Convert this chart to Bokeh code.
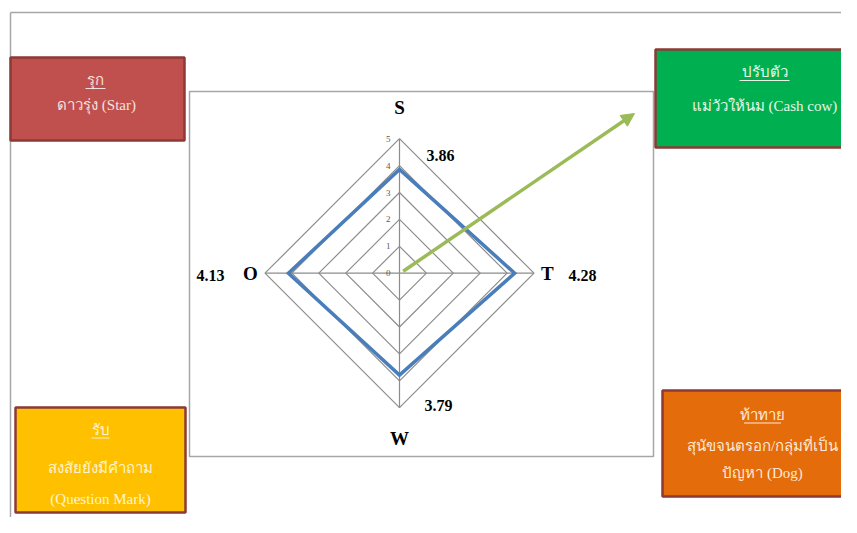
import math
from bokeh.plotting import figure
from bokeh.models import Range1d, Arrow, NormalHead
from bokeh.core.properties import value
from bokeh.embed import file_html
from bokeh.resources import INLINE

# ---------------- data ----------------
axis_names = ["S", "T", "W", "O"]
axis_angles_deg = [90, 0, 270, 180]
scores = [3.86, 4.28, 3.79, 4.13]
score_labels = ["3.86", "4.28", "3.79", "4.13"]
ring_levels = [1, 2, 3, 4, 5]
tick_values = [0, 1, 2, 3, 4, 5]
tick_labels = ["0", "1", "2", "3", "4", "5"]

box_titles = ["รุก", "ปรับตัว", "รับ", "ท้าทาย"]
box_lines = [
    ["ดาวรุ่ง (Star)"],
    ["แม่วัวให้นม (Cash cow)"],
    ["สงสัยยังมีคำถาม", "(Question Mark)"],
    ["สุนัขจนตรอก/กลุ่มที่เป็น", "ปัญหา (Dog)"],
]
box_colors = ["#C0504D", "#00B050", "#FFC000", "#E46C0A"]
box_text_colors = ["#F6E0DF", "#EAF5E4", "#FFF4CF", "#FDE9D9"]

# ---------------- layout ----------------
W, H = 841, 517
OFF = 0                    # picture offset of the figure
CX, CY = 399.0, 272.7      # radar centre in figure pixels
UNIT = 26.9                # pixels per score unit

def X(px):  # picture pixel -> data x
    return (px - OFF - CX) / UNIT

def Y(py):  # picture pixel -> data y
    return (CY - (py - OFF)) / UNIT

SERIF = value("Liberation Serif")

p = figure(width=W, height=H,
           x_range=Range1d(-CX / UNIT, (W - CX) / UNIT),
           y_range=Range1d(-(H - CY) / UNIT, CY / UNIT),
           x_axis_type=None, y_axis_type=None,
           output_backend="svg", toolbar_location=None,
           min_border=0, outline_line_color=None,
           background_fill_color="white", border_fill_color="white")
p.grid.visible = False

# outer page frame lines
p.line([X(10), X(900)], [Y(12), Y(12)], line_color="#A6A6A6", line_width=1.5)
p.line([X(10), X(10)], [Y(12), Y(600)], line_color="#A6A6A6", line_width=1.5)

# chart frame
p.quad(left=X(189), right=X(653), top=Y(91), bottom=Y(456),
       fill_color="white", line_color="#A6A6A6", line_width=1.5)

# quadrant boxes: (left, top, right, bottom) picture px
box_rects = [(10, 57, 184, 140), (655, 49, 870, 147), (15, 407, 185, 512), (662, 390, 856, 496)]
title_pos = [(95, 79), (764, 71), (100, 429), (762, 414)]
underline_y = [88, 80, 437.5, 422.5]
underline_w = [20, 50, 18, 37]
line_pos = [[(96, 104)], [(764, 105)], [(100, 467), (100, 498)], [(762, 445), (762, 472)]]

for (l, t, r, b), col, tcol, title, tp, uy, uw, lines, lp in zip(
        box_rects, box_colors, box_text_colors, box_titles, title_pos, underline_y,
        underline_w, box_lines, line_pos):
    p.quad(left=X(l), right=X(r), top=Y(t), bottom=Y(b),
           fill_color=col, line_color="#8B3A36", line_width=2.5)
    p.text(x=[X(tp[0])], y=[Y(tp[1])], text=[title], text_align="center",
           text_baseline="middle", text_font=SERIF, text_font_size="15px",
           text_color=tcol)
    p.line([X(tp[0] - uw / 2), X(tp[0] + uw / 2)], [Y(uy), Y(uy)],
           line_color=tcol, line_width=1)
    p.text(x=[X(q[0]) for q in lp], y=[Y(q[1]) for q in lp], text=lines,
           text_align="center", text_baseline="middle", text_font=SERIF,
           text_font_size="15px", text_color=tcol)

# ---------------- radar ----------------
angles = [math.radians(a) for a in axis_angles_deg]
grid_col = "#8C8C8C"
for lv in ring_levels:
    xs = [lv * math.cos(a) for a in angles] + [lv * math.cos(angles[0])]
    ys = [lv * math.sin(a) for a in angles] + [lv * math.sin(angles[0])]
    p.line(xs, ys, line_color=grid_col, line_width=1.2)
rmax = max(ring_levels)
for a in angles:
    p.line([0, rmax * math.cos(a)], [0, rmax * math.sin(a)], line_color=grid_col, line_width=1.2)

p.text(x=[0] * len(tick_values), y=tick_values, text=tick_labels, x_offset=-9,
       text_align="right", text_baseline="middle", text_font=SERIF,
       text_font_size="9px", text_color="#595959")

sx = [s * math.cos(a) for s, a in zip(scores, angles)]
sy = [s * math.sin(a) for s, a in zip(scores, angles)]
p.patch(sx + [sx[0]], sy + [sy[0]], fill_color=None, line_color="#4A7EBB",
        line_width=3.5, line_join="miter")

# axis name labels
name_r = [6.15, 5.5, 6.15, 5.54]
p.text(x=[r * math.cos(a) for r, a in zip(name_r, angles)],
       y=[r * math.sin(a) for r, a in zip(name_r, angles)],
       text=axis_names, text_align="center", text_baseline="middle",
       text_font=SERIF, text_font_size="19px", text_font_style="bold", text_color="black")

# score labels (position offsets in score units)
score_pos = [(1.52, 4.38), (6.8, -0.09), (1.45, -4.92), (-7.03, -0.09)]
p.text(x=[q[0] for q in score_pos], y=[q[1] for q in score_pos], text=score_labels,
       text_align="center", text_baseline="middle", text_font=SERIF,
       text_font_size="16px", text_font_style="bold", text_color="black")

# green arrow
green = "#9BBB59"
p.add_layout(Arrow(end=NormalHead(size=13, fill_color=green, line_color=green),
                   x_start=X(402.7), y_start=Y(270.7), x_end=X(634), y_end=Y(113),
                   line_color=green, line_width=3.5))

open("out.html", "w").write(file_html(p, INLINE))
